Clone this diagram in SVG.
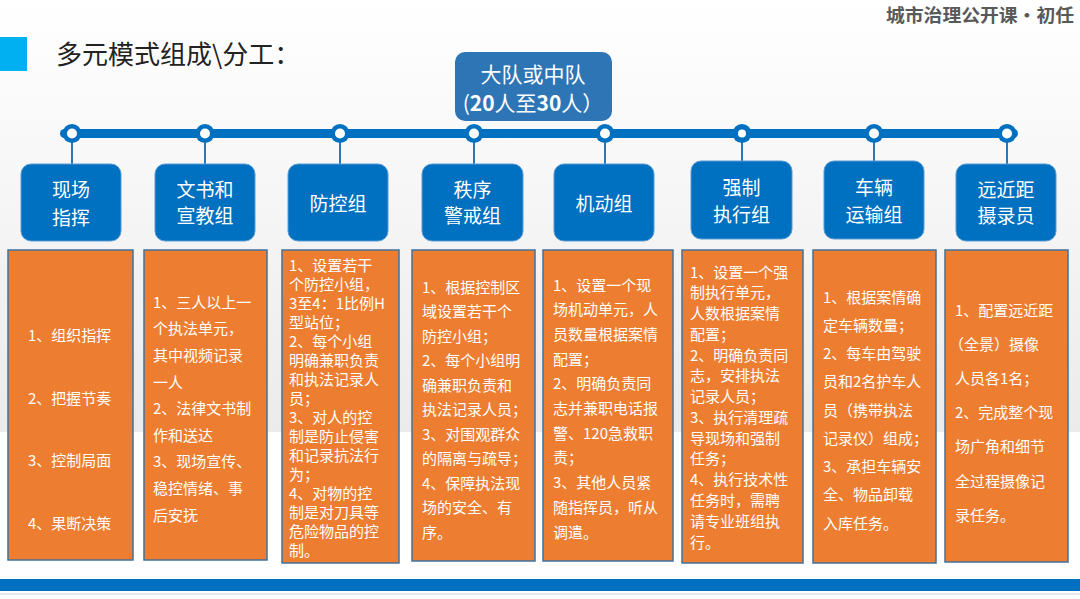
<svg xmlns="http://www.w3.org/2000/svg" width="1080" height="599" viewBox="0 0 1080 599">
<defs>
<linearGradient id="bg" x1="0" y1="0" x2="0" y2="1">
<stop offset="0" stop-color="#ffffff"/>
<stop offset="0.25" stop-color="#fafafa"/>
<stop offset="1" stop-color="#ebebeb"/>
</linearGradient>
<style>
.cjk{font-family:"Noto Sans CJK SC","Noto Sans",sans-serif}
.ot{font-family:"Noto Sans CJK SC","Noto Sans",sans-serif;font-size:15px;fill:#ffffff}
.bt{font-family:"Noto Sans CJK SC","Noto Sans",sans-serif;font-size:19px;fill:#ffffff;text-anchor:middle}
.ob{fill:#ed7d31;stroke:#41719c;stroke-width:1.5}
.bb{fill:#0070c0;stroke:#5b9bd5;stroke-width:1}
.stem{stroke:#2e75b6;stroke-width:2}
.co{fill:#0070c0}
.ci{fill:#ffffff}
</style>
</defs>
<rect x="0" y="0" width="1080" height="432" fill="url(#bg)"/>
<rect x="0" y="432" width="1080" height="167" fill="#ffffff"/>
<rect x="0" y="579" width="1080" height="12" fill="#0070c0"/>
<rect x="0" y="593" width="1080" height="2" fill="#e4e8ee"/>

<g id="header-bar">
<rect x="0" y="37" width="27" height="34" fill="#00b0f0"/>
<text x="56" y="64" class="cjk" font-size="26" fill="#222222">多元模式组成\分工：</text>
<text x="886" y="22" class="cjk" font-size="18" font-weight="bold" fill="#595959" textLength="188" lengthAdjust="spacingAndGlyphs">城市治理公开课·初任</text>
</g>

<g id="connectors">
<rect x="60" y="129" width="958" height="9" rx="4.5" fill="#0070c0"/>
<line class="stem" x1="72" y1="140" x2="72" y2="165"/>
<line class="stem" x1="205" y1="140" x2="205" y2="165"/>
<line class="stem" x1="340" y1="140" x2="340" y2="165"/>
<line class="stem" x1="474" y1="140" x2="474" y2="165"/>
<line class="stem" x1="605" y1="140" x2="605" y2="165"/>
<line class="stem" x1="742" y1="140" x2="742" y2="161"/>
<line class="stem" x1="874" y1="140" x2="874" y2="161"/>
<line class="stem" x1="1007" y1="140" x2="1007" y2="165"/>
<circle class="co" cx="72" cy="133.5" r="9.5"/><circle class="ci" cx="72" cy="133.5" r="5"/>
<circle class="co" cx="205" cy="133.5" r="9.5"/><circle class="ci" cx="205" cy="133.5" r="5"/>
<circle class="co" cx="340" cy="133.5" r="9.5"/><circle class="ci" cx="340" cy="133.5" r="5"/>
<circle class="co" cx="474" cy="133.5" r="9.5"/><circle class="ci" cx="474" cy="133.5" r="5"/>
<circle class="co" cx="605" cy="133.5" r="9.5"/><circle class="ci" cx="605" cy="133.5" r="5"/>
<circle class="co" cx="742" cy="133.5" r="9.5"/><circle class="ci" cx="742" cy="133.5" r="4"/>
<circle class="co" cx="874" cy="133.5" r="9.5"/><circle class="ci" cx="874" cy="133.5" r="5"/>
<circle class="co" cx="1007" cy="133.5" r="9.5"/><circle class="ci" cx="1007" cy="133.5" r="5"/>
</g>

<g id="top-node">
<rect x="455" y="52" width="157" height="69" rx="10" fill="#2e75b6"/>
<text x="533" y="82" class="cjk" font-size="21" fill="#ffffff" text-anchor="middle">大队或中队</text>
<text x="533" y="111" class="cjk" font-size="21" fill="#ffffff" text-anchor="middle">(<tspan font-weight="bold">20</tspan>人至<tspan font-weight="bold">30</tspan>人）</text>
</g>

<g id="node-1">
<rect class="bb" x="21" y="164" width="100" height="77" rx="10"/>
<text class="bt"><tspan x="71" y="197">现场</tspan><tspan x="71" y="225">指挥</tspan></text>
<rect class="ob" x="8" y="250" width="125" height="310"/>
<text class="ot"><tspan x="28" y="340.5">1、组织指挥</tspan><tspan x="28" y="403.5">2、把握节奏</tspan><tspan x="28" y="465.5">3、控制局面</tspan><tspan x="28" y="528.5">4、果断决策</tspan></text>
</g>

<g id="node-2">
<rect class="bb" x="155" y="164" width="100" height="77" rx="10"/>
<text class="bt"><tspan x="205" y="197">文书和</tspan><tspan x="205" y="223">宣教组</tspan></text>
<rect class="ob" x="144" y="250" width="123" height="310"/>
<text class="ot"><tspan x="153" y="307.5">1、三人以上一</tspan><tspan x="153" y="334">个执法单元，</tspan><tspan x="153" y="361">其中视频记录</tspan><tspan x="153" y="387.5">一人</tspan><tspan x="153" y="414">2、法律文书制</tspan><tspan x="153" y="440.5">作和送达</tspan><tspan x="153" y="467">3、现场宣传、</tspan><tspan x="153" y="494">稳控情绪、事</tspan><tspan x="153" y="520.5">后安抚</tspan></text>
</g>

<g id="node-3">
<rect class="bb" x="288" y="164" width="100" height="77" rx="10"/>
<text class="bt" x="338" y="211">防控组</text>
<rect class="ob" x="282" y="250" width="117" height="313"/>
<text class="ot"><tspan x="289" y="270.5">1、设置若干</tspan><tspan x="289" y="289.5">个防控小组，</tspan><tspan x="289" y="308.5">3至4：1比例H</tspan><tspan x="289" y="327.5">型站位；</tspan><tspan x="289" y="346.5">2、每个小组</tspan><tspan x="289" y="365.5">明确兼职负责</tspan><tspan x="289" y="384.5">和执法记录人</tspan><tspan x="289" y="403.5">员；</tspan><tspan x="289" y="422.5">3、对人的控</tspan><tspan x="289" y="441.5">制是防止侵害</tspan><tspan x="289" y="460.5">和记录抗法行</tspan><tspan x="289" y="479.5">为；</tspan><tspan x="289" y="498.5">4、对物的控</tspan><tspan x="289" y="517.5">制是对刀具等</tspan><tspan x="289" y="536.5">危险物品的控</tspan><tspan x="289" y="555.5">制。</tspan></text>
</g>

<g id="node-4">
<rect class="bb" x="422" y="164" width="101" height="77" rx="10"/>
<text class="bt"><tspan x="472.5" y="197">秩序</tspan><tspan x="472.5" y="223">警戒组</tspan></text>
<rect class="ob" x="412" y="250" width="123" height="311"/>
<text class="ot"><tspan x="422" y="292.5">1、根据控制区</tspan><tspan x="422" y="317">域设置若干个</tspan><tspan x="422" y="341.5">防控小组；</tspan><tspan x="422" y="366">2、每个小组明</tspan><tspan x="422" y="390.5">确兼职负责和</tspan><tspan x="422" y="415">执法记录人员；</tspan><tspan x="422" y="439.5">3、对围观群众</tspan><tspan x="422" y="464">的隔离与疏导；</tspan><tspan x="422" y="488.5">4、保障执法现</tspan><tspan x="422" y="513">场的安全、有</tspan><tspan x="422" y="537.5">序。</tspan></text>
</g>

<g id="node-5">
<rect class="bb" x="554" y="164" width="100" height="77" rx="10"/>
<text class="bt" x="604" y="211">机动组</text>
<rect class="ob" x="543" y="250" width="130" height="311"/>
<text class="ot"><tspan x="553" y="290.5">1、设置一个现</tspan><tspan x="553" y="315.2">场机动单元，人</tspan><tspan x="553" y="339.9">员数量根据案情</tspan><tspan x="553" y="364.6">配置；</tspan><tspan x="553" y="389.3">2、明确负责同</tspan><tspan x="553" y="414">志并兼职电话报</tspan><tspan x="553" y="438.7">警、120急救职</tspan><tspan x="553" y="463.4">责；</tspan><tspan x="553" y="488.1">3、其他人员紧</tspan><tspan x="553" y="512.8">随指挥员，听从</tspan><tspan x="553" y="537.5">调遣。</tspan></text>
</g>

<g id="node-6">
<rect class="bb" x="691" y="161" width="101" height="78" rx="10"/>
<text class="bt"><tspan x="741.5" y="195">强制</tspan><tspan x="741.5" y="222">执行组</tspan></text>
<rect class="ob" x="682" y="250" width="121" height="313"/>
<text class="ot"><tspan x="690" y="277.5">1、设置一个强</tspan><tspan x="690" y="298.3">制执行单元，</tspan><tspan x="690" y="319">人数根据案情</tspan><tspan x="690" y="339.8">配置；</tspan><tspan x="690" y="360.6">2、明确负责同</tspan><tspan x="690" y="381.4">志，安排执法</tspan><tspan x="690" y="402.1">记录人员；</tspan><tspan x="690" y="422.9">3、执行清理疏</tspan><tspan x="690" y="443.7">导现场和强制</tspan><tspan x="690" y="464.4">任务；</tspan><tspan x="690" y="485.2">4、执行技术性</tspan><tspan x="690" y="506">任务时，需聘</tspan><tspan x="690" y="526.7">请专业班组执</tspan><tspan x="690" y="547.5">行。</tspan></text>
</g>

<g id="node-7">
<rect class="bb" x="824" y="161" width="100" height="78" rx="10"/>
<text class="bt"><tspan x="874" y="195">车辆</tspan><tspan x="874" y="222">运输组</tspan></text>
<rect class="ob" x="813" y="250" width="123" height="313"/>
<text class="ot"><tspan x="823" y="302.5">1、根据案情确</tspan><tspan x="823" y="330.8">定车辆数量；</tspan><tspan x="823" y="359">2、每车由驾驶</tspan><tspan x="823" y="387.3">员和2名护车人</tspan><tspan x="823" y="415.5">员（携带执法</tspan><tspan x="823" y="443.8">记录仪）组成；</tspan><tspan x="823" y="472">3、承担车辆安</tspan><tspan x="823" y="500.3">全、物品卸载</tspan><tspan x="823" y="528.5">入库任务。</tspan></text>
</g>

<g id="node-8">
<rect class="bb" x="956" y="164" width="100" height="77" rx="10"/>
<text class="bt"><tspan x="1006" y="197">远近距</tspan><tspan x="1006" y="223">摄录员</tspan></text>
<rect class="ob" x="945" y="250" width="123" height="312"/>
<text class="ot"><tspan x="955" y="315.5">1、配置远近距</tspan><tspan x="949" y="349.7">（全景）摄像</tspan><tspan x="955" y="383.9">人员各1名；</tspan><tspan x="955" y="418.1">2、完成整个现</tspan><tspan x="955" y="452.3">场广角和细节</tspan><tspan x="955" y="486.5">全过程摄像记</tspan><tspan x="955" y="520.7">录任务。</tspan></text>
</g>
</svg>
